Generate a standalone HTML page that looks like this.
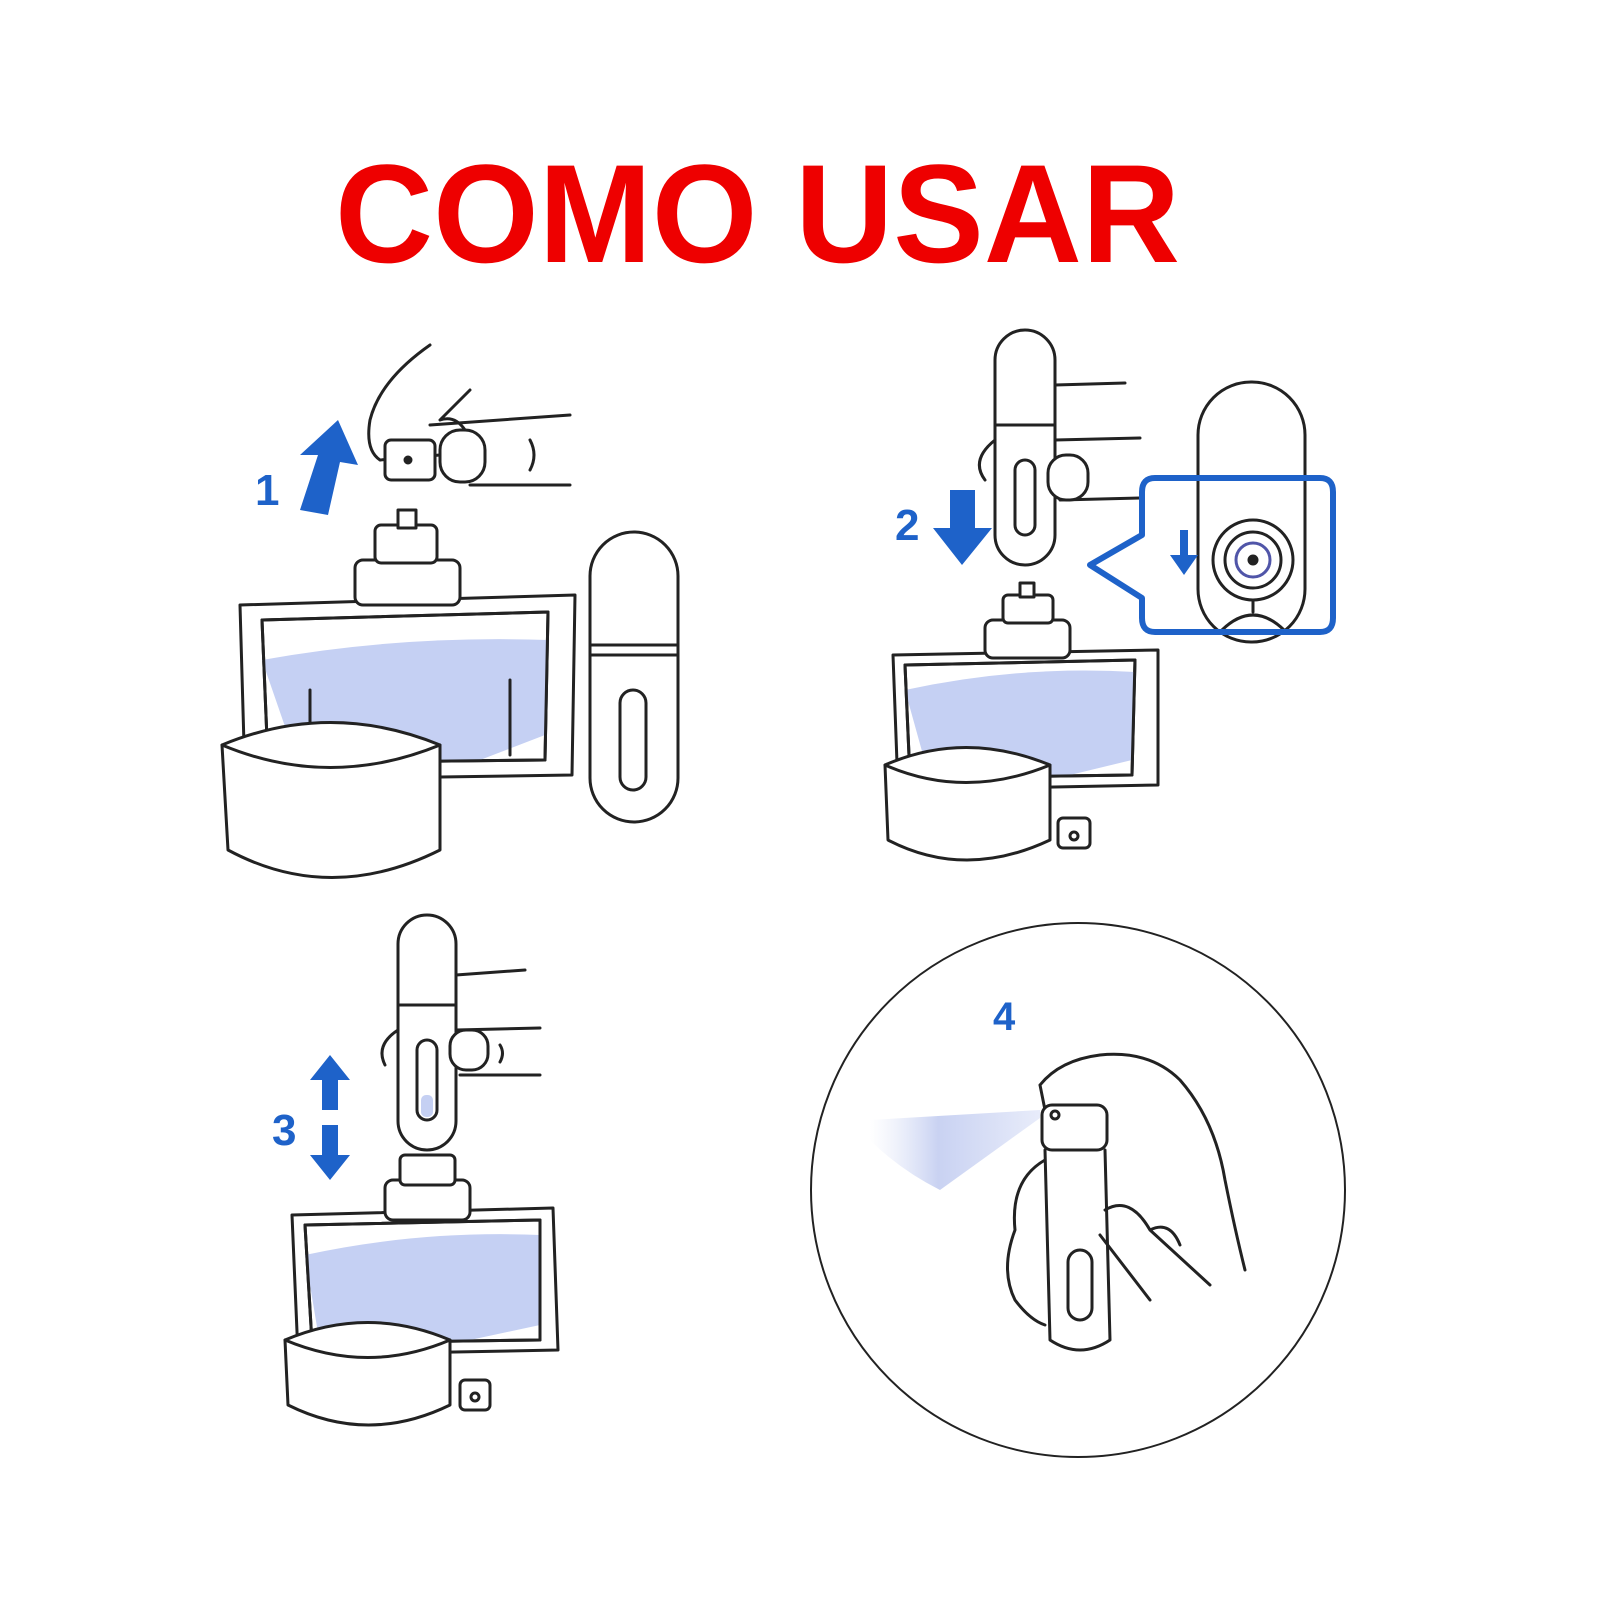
<!DOCTYPE html>
<html><head><meta charset="utf-8"><style>
html,body{margin:0;padding:0;background:#fff;width:1600px;height:1600px;overflow:hidden}
</style></head><body>
<svg width="1600" height="1600" viewBox="0 0 1600 1600" xmlns="http://www.w3.org/2000/svg">
<defs>
<linearGradient id="spray" x1="0" x2="1"><stop offset="0" stop-color="#dde3f7" stop-opacity="0"/><stop offset="0.4" stop-color="#c9d2f2"/><stop offset="1" stop-color="#e8ecfa"/></linearGradient>
</defs>
<text x="335" y="262" font-family="Liberation Sans, sans-serif" font-weight="bold" font-size="140" fill="#ee0000" textLength="845" lengthAdjust="spacingAndGlyphs">COMO USAR</text>

<g fill="none" stroke="#222" stroke-width="3" stroke-linejoin="round" stroke-linecap="round">
<!-- PANEL 1 -->
<path d="M240 605 L575 595 L572 775 L245 780 Z"/>
<path d="M262 620 L548 612 L545 760 L268 763 Z" fill="#fff"/>
<path d="M262 660 Q400 635 548 640 L545 735 L480 760 L300 770 Z" fill="#c5d0f3" stroke="none"/>
<path d="M262 620 L548 612 L545 760 L268 763 Z"/>
<path d="M310 690 L310 760 M510 680 L510 755"/>
<rect x="355" y="560" width="105" height="45" rx="8" fill="#fff"/>
<rect x="375" y="525" width="62" height="38" rx="6" fill="#fff"/>
<rect x="398" y="510" width="18" height="18" fill="#fff"/>
<path d="M222 745 Q330 700 440 745 L440 850 Q330 905 228 850 Z" fill="#fff"/>
<path d="M222 745 Q330 790 440 745"/>
<rect x="590" y="532" width="88" height="290" rx="44" fill="#fff"/>
<path d="M590 645 L678 645 M590 655 L678 655"/>
<rect x="620" y="690" width="26" height="100" rx="13"/>
<!-- hand 1 -->
<path d="M430 345 Q380 380 370 420 Q365 450 380 460 M470 390 L440 420 M380 460 L440 455 M440 420 Q455 415 465 430 M430 425 L570 415 M470 485 L570 485"/>
<rect x="385" y="440" width="50" height="40" rx="6" fill="#fff"/>
<circle cx="408" cy="460" r="3" fill="#222"/>
<rect x="440" y="430" width="45" height="52" rx="20"/>
<path d="M530 440 Q538 455 530 470"/>

<!-- PANEL 2 -->
<path d="M893 655 L1158 650 L1158 785 L898 790 Z"/>
<path d="M905 665 L1135 660 L1132 775 L910 778 Z" fill="#fff"/>
<path d="M905 690 Q1020 665 1135 672 L1132 760 L1070 775 L930 780 Z" fill="#c5d0f3" stroke="none"/>
<path d="M905 665 L1135 660 L1132 775 L910 778 Z"/>
<rect x="985" y="620" width="85" height="38" rx="8" fill="#fff"/>
<rect x="1003" y="595" width="50" height="28" rx="5" fill="#fff"/>
<rect x="1020" y="583" width="14" height="14" fill="#fff"/>
<path d="M885 765 Q965 730 1050 765 L1050 840 Q965 880 888 840 Z" fill="#fff"/>
<path d="M885 765 Q965 800 1050 765"/>
<rect x="1058" y="818" width="32" height="30" rx="5" fill="#fff"/>
<circle cx="1074" cy="836" r="4"/>
<rect x="995" y="330" width="60" height="235" rx="30" fill="#fff"/>
<path d="M995 425 L1055 425"/>
<rect x="1015" y="460" width="20" height="75" rx="10"/>
<path d="M1055 385 L1125 383 M1055 440 L1140 438 M1060 500 L1140 498 M995 440 Q970 460 985 480"/>
<rect x="1048" y="455" width="40" height="45" rx="18" fill="#fff"/>
<!-- callout -->
<rect x="1198" y="382" width="107" height="260" rx="53" fill="#fff"/>
<circle cx="1253" cy="560" r="40" fill="#fff"/>
<circle cx="1253" cy="560" r="28"/>
<circle cx="1253" cy="560" r="17" stroke="#5055a8"/>
<circle cx="1253" cy="560" r="4" fill="#222"/>
<path d="M1253 600 L1253 612 M1222 630 Q1253 600 1284 630"/>
</g>
<path d="M1155 478 L1320 478 Q1333 478 1333 492 L1333 618 Q1333 632 1320 632 L1155 632 Q1142 632 1142 618 L1142 598 L1090 565 L1142 535 L1142 492 Q1142 478 1155 478 Z" fill="none" stroke="#1e62c9" stroke-width="6" stroke-linejoin="round"/>
<path d="M1180 530 L1180 555 L1170 555 L1184 575 L1198 555 L1188 555 L1188 530 Z" fill="#1e62c9"/>

<g fill="none" stroke="#222" stroke-width="3" stroke-linejoin="round" stroke-linecap="round">
<!-- PANEL 3 -->
<path d="M292 1215 L553 1208 L558 1350 L298 1355 Z"/>
<path d="M305 1225 L540 1220 L540 1340 L312 1343 Z" fill="#fff"/>
<path d="M305 1255 Q420 1230 540 1235 L540 1325 L470 1340 L320 1345 Z" fill="#c5d0f3" stroke="none"/>
<path d="M305 1225 L540 1220 L540 1340 L312 1343 Z"/>
<rect x="385" y="1180" width="85" height="40" rx="8" fill="#fff"/>
<rect x="400" y="1155" width="55" height="30" rx="5" fill="#fff"/>
<path d="M285 1340 Q368 1305 450 1340 L450 1405 Q368 1445 288 1405 Z" fill="#fff"/>
<path d="M285 1340 Q368 1375 450 1340"/>
<rect x="460" y="1380" width="30" height="30" rx="5" fill="#fff"/>
<circle cx="475" cy="1397" r="4"/>
<rect x="398" y="915" width="58" height="235" rx="29" fill="#fff"/>
<path d="M398 1005 L456 1005"/>
<rect x="417" y="1040" width="20" height="80" rx="10"/>
<path d="M456 975 L525 970 M456 1030 L540 1028 M460 1075 L540 1075 M398 1030 Q375 1045 385 1065"/>
<rect x="450" y="1030" width="38" height="40" rx="16" fill="#fff"/>
<path d="M500 1045 Q505 1053 500 1062"/>

<!-- PANEL 4 -->
<circle cx="1078" cy="1190" r="267" stroke-width="2"/>
</g>
<rect x="421" y="1095" width="12" height="22" rx="5" fill="#c5d0f3"/>
<path d="M870 1120 L1040 1110 L1040 1118 L940 1190 Q900 1170 870 1140 Z" fill="url(#spray)"/>
<g fill="none" stroke="#222" stroke-width="3" stroke-linejoin="round" stroke-linecap="round">
<path d="M1040 1085 Q1060 1060 1100 1055 Q1150 1050 1180 1080 Q1215 1120 1225 1180 Q1235 1230 1245 1270 M1040 1085 L1045 1110"/>
<rect x="1042" y="1105" width="65" height="45" rx="10" fill="#fff"/>
<circle cx="1055" cy="1115" r="4"/>
<path d="M1045 1150 L1050 1340 Q1080 1360 1110 1340 L1105 1150"/>
<rect x="1068" y="1250" width="24" height="70" rx="12"/>
<path d="M1045 1160 Q1010 1180 1015 1230 Q1000 1270 1015 1300 Q1030 1320 1045 1325 M1105 1210 Q1130 1195 1150 1230 L1210 1285 M1100 1235 L1150 1300 M1150 1230 Q1170 1220 1180 1245"/>
</g>

<!-- blue arrows & numbers -->
<g fill="#1e62c9" font-family="Liberation Sans, sans-serif" font-weight="bold">
<path d="M300 510 L318 455 L300 455 L338 420 L358 465 L340 462 L328 515 Z"/>
<text x="255" y="505" font-size="44">1</text>
<path d="M950 490 L975 490 L975 528 L992 528 L962 565 L933 528 L950 528 Z"/>
<text x="895" y="540" font-size="44">2</text>
<path d="M330 1055 L350 1080 L338 1080 L338 1110 L322 1110 L322 1080 L310 1080 Z"/>
<path d="M322 1125 L338 1125 L338 1155 L350 1155 L330 1180 L310 1155 L322 1155 Z"/>
<text x="272" y="1145" font-size="44">3</text>
<text x="993" y="1030" font-size="40">4</text>
</g>
</svg>
</body></html>
